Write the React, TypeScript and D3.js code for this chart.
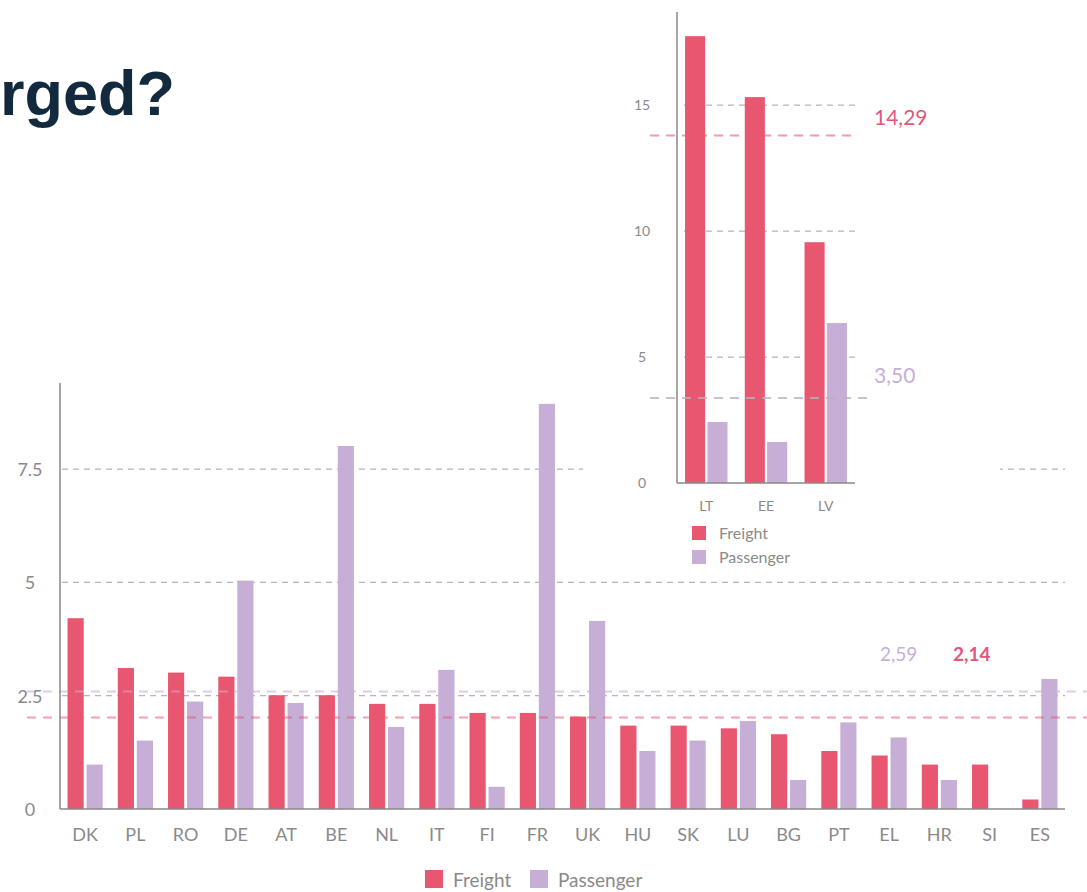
import * as d3 from "d3";
import React, { useEffect, useRef } from "react";

// main chart
const countries = ["DK", "PL", "RO", "DE", "AT", "BE", "NL", "IT", "FI", "FR", "UK", "HU", "SK", "LU", "BG", "PT", "EL", "HR", "SI", "ES"];
const freight = [4.21, 3.11, 3.01, 2.92, 2.51, 2.51, 2.32, 2.32, 2.12, 2.12, 2.04, 1.84, 1.84, 1.78, 1.65, 1.28, 1.18, 0.98, 0.98, 0.21];
const passenger = [0.98, 1.51, 2.37, 5.04, 2.34, 8.01, 1.81, 3.07, 0.49, 8.94, 4.15, 1.28, 1.51, 1.94, 0.64, 1.91, 1.58, 0.64, 0, 2.87];
const mainTicks = [0, 2.5, 5, 7.5];
const mainTickLabels = ["0", "2.5", "5", "7.5"];
const mainAvgFreight = 2.02;
const mainAvgPassenger = 2.59;
const mainAvgFreightLabel = "2,14";
const mainAvgPassengerLabel = "2,59";

// baltic inset
const insetCountries = ["LT", "EE", "LV"];
const insetFreight = [17.74, 15.32, 9.56];
const insetPassenger = [2.42, 1.63, 6.35];
const insetTicks = [0, 5, 10, 15];
const insetAvgFreight = 13.8;
const insetAvgPassenger = 3.37;
const insetAvgFreightLabel = "14,29";
const insetAvgPassengerLabel = "3,50";

const seriesNames = ["Freight", "Passenger"];
const colors = ["#e9566f", "#c6aed6"];
const font = "Lato, 'Noto Sans', sans-serif";

const App = () => {
  const svgRef = useRef<SVGSVGElement>(null);

  useEffect(() => {
    const svg = d3.select(svgRef.current);
    svg.selectAll("*").remove();

    svg.append("rect").attr("width", 1087).attr("height", 892).attr("fill", "#fff");

    // title fragment
    svg
      .append("text")
      .attr("x", 0)
      .attr("y", 115)
      .style("font-family", "'Liberation Sans', Arial, sans-serif")
      .style("font-weight", "bold")
      .style("font-size", "63px")
      .style("fill", "#13293d")
      .text("rged?");

    // ---------- main chart ----------
    const x = d3.scaleBand().domain(countries).range([60, 1065]).paddingInner(0.3).paddingOuter(0.15);
    const xs = d3.scaleBand().domain(seriesNames).range([0, x.bandwidth()]).paddingInner(0.15);
    const y = d3.scaleLinear().domain([0, 9.4]).range([809, 383]);

    const main = svg.append("g");

    main
      .selectAll("line.grid")
      .data(mainTicks.filter((t) => t > 0))
      .enter()
      .append("line")
      .attr("x1", 62)
      .attr("x2", 1065)
      .attr("y1", (d) => y(d))
      .attr("y2", (d) => y(d))
      .attr("stroke", "#b5b5b5")
      .attr("stroke-width", 1.3)
      .attr("stroke-dasharray", "6 5");

    const rows = countries.map((c, i) => ({ c, vals: [freight[i], passenger[i]] }));
    main
      .selectAll("g.grp")
      .data(rows)
      .enter()
      .append("g")
      .attr("transform", (d) => `translate(${x(d.c)},0)`)
      .selectAll("rect")
      .data((d) => d.vals.map((v, k) => ({ v, k })))
      .enter()
      .append("rect")
      .attr("x", (d) => xs(seriesNames[d.k])!)
      .attr("width", xs.bandwidth())
      .attr("y", (d) => y(d.v))
      .attr("height", (d) => y(0) - y(d.v))
      .attr("fill", (d) => colors[d.k]);

    // average lines
    main
      .append("line")
      .attr("x1", 27)
      .attr("x2", 1087)
      .attr("y1", y(mainAvgPassenger))
      .attr("y2", y(mainAvgPassenger))
      .attr("stroke", colors[1])
      .attr("stroke-opacity", 0.6)
      .attr("stroke-width", 2)
      .attr("stroke-dasharray", "9 7");
    main
      .append("line")
      .attr("x1", 27)
      .attr("x2", 1087)
      .attr("y1", y(mainAvgFreight))
      .attr("y2", y(mainAvgFreight))
      .attr("stroke", colors[0])
      .attr("stroke-opacity", 0.55)
      .attr("stroke-width", 2)
      .attr("stroke-dasharray", "9 7");

    // axes
    main.append("line").attr("x1", 60).attr("x2", 60).attr("y1", 383).attr("y2", y(0)).attr("stroke", "#888").attr("stroke-width", 1.5);
    main.append("line").attr("x1", 60).attr("x2", 1065).attr("y1", y(0)).attr("y2", y(0)).attr("stroke", "#888").attr("stroke-width", 1.5);

    main
      .selectAll("text.ytick")
      .data(mainTicks)
      .enter()
      .append("text")
      .attr("x", 30)
      .attr("y", (d) => y(d) + 7)
      .attr("text-anchor", "middle")
      .style("font-family", font)
      .style("font-size", "18px")
      .style("fill", "#8a8a8a")
      .text((d, i) => mainTickLabels[i]);

    main
      .selectAll("text.xtick")
      .data(countries)
      .enter()
      .append("text")
      .attr("x", (d) => x(d)! + x.bandwidth() / 2)
      .attr("y", 841)
      .attr("text-anchor", "middle")
      .style("font-family", font)
      .style("font-size", "18px")
      .style("fill", "#8a8a8a")
      .text((d) => d);

    main
      .append("text")
      .attr("x", 880)
      .attr("y", 661)
      .style("font-family", font)
      .style("font-size", "19px")
      .style("fill", colors[1])
      .text(mainAvgPassengerLabel);
    main
      .append("text")
      .attr("x", 953)
      .attr("y", 661)
      .style("font-family", font)
      .style("font-size", "19px")
      .style("font-weight", "bold")
      .style("fill", "#e2587a")
      .text(mainAvgFreightLabel);

    // bottom legend
    const legendX = [425, 530];
    seriesNames.forEach((s, i) => {
      main.append("rect").attr("x", legendX[i]).attr("y", 870).attr("width", 18).attr("height", 18).attr("fill", colors[i]);
      main
        .append("text")
        .attr("x", legendX[i] + 28)
        .attr("y", 887)
        .style("font-family", font)
        .style("font-size", "19px")
        .style("fill", "#8a8a8a")
        .text(s);
    });

    // ---------- inset ----------
    const inset = svg.append("g");
    inset.append("rect").attr("x", 583).attr("y", 0).attr("width", 417).attr("height", 578).attr("fill", "#fff");

    const ix = d3.scaleBand().domain(insetCountries).range([677, 855]).paddingInner(0.29).paddingOuter(0.135);
    const ixs = d3.scaleBand().domain(seriesNames).range([0, ix.bandwidth()]).paddingInner(0.1);
    const iy = d3.scaleLinear().domain([0, 18.7]).range([483, 12]);

    inset
      .selectAll("line.grid")
      .data(insetTicks.filter((t) => t > 0))
      .enter()
      .append("line")
      .attr("x1", 684)
      .attr("x2", 856)
      .attr("y1", (d) => iy(d))
      .attr("y2", (d) => iy(d))
      .attr("stroke", "#b5b5b5")
      .attr("stroke-width", 1.2)
      .attr("stroke-dasharray", "6 5");

    const irows = insetCountries.map((c, i) => ({ c, vals: [insetFreight[i], insetPassenger[i]] }));
    inset
      .selectAll("g.grp")
      .data(irows)
      .enter()
      .append("g")
      .attr("transform", (d) => `translate(${ix(d.c)},0)`)
      .selectAll("rect")
      .data((d) => d.vals.map((v, k) => ({ v, k })))
      .enter()
      .append("rect")
      .attr("x", (d) => ixs(seriesNames[d.k])!)
      .attr("width", ixs.bandwidth())
      .attr("y", (d) => iy(d.v))
      .attr("height", (d) => iy(0) - iy(d.v))
      .attr("fill", (d) => colors[d.k]);

    inset
      .append("line")
      .attr("x1", 650)
      .attr("x2", 858)
      .attr("y1", iy(insetAvgFreight))
      .attr("y2", iy(insetAvgFreight))
      .attr("stroke", colors[0])
      .attr("stroke-opacity", 0.6)
      .attr("stroke-width", 2)
      .attr("stroke-dasharray", "9 7");
    inset
      .append("line")
      .attr("x1", 650)
      .attr("x2", 873)
      .attr("y1", iy(insetAvgPassenger))
      .attr("y2", iy(insetAvgPassenger))
      .attr("stroke", "#b9b0c0")
      .attr("stroke-opacity", 0.8)
      .attr("stroke-width", 2)
      .attr("stroke-dasharray", "9 7");

    inset.append("line").attr("x1", 677).attr("x2", 677).attr("y1", 12).attr("y2", iy(0)).attr("stroke", "#888").attr("stroke-width", 1.5);
    inset.append("line").attr("x1", 677).attr("x2", 855).attr("y1", iy(0)).attr("y2", iy(0)).attr("stroke", "#888").attr("stroke-width", 1.5);

    inset
      .selectAll("text.ytick")
      .data(insetTicks)
      .enter()
      .append("text")
      .attr("x", 642)
      .attr("y", (d) => iy(d) + 5)
      .attr("text-anchor", "middle")
      .style("font-family", font)
      .style("font-size", "14px")
      .style("fill", "#8a8a8a")
      .text((d) => String(d));

    inset
      .selectAll("text.xtick")
      .data(insetCountries)
      .enter()
      .append("text")
      .attr("x", (d) => ix(d)! + ix.bandwidth() / 2)
      .attr("y", 511)
      .attr("text-anchor", "middle")
      .style("font-family", font)
      .style("font-size", "14px")
      .style("fill", "#8a8a8a")
      .text((d) => d);

    inset
      .append("text")
      .attr("x", 874)
      .attr("y", 125)
      .style("font-family", font)
      .style("font-size", "21px")
      .style("fill", "#e2587a")
      .text(insetAvgFreightLabel);
    inset
      .append("text")
      .attr("x", 874)
      .attr("y", 383)
      .style("font-family", font)
      .style("font-size", "21px")
      .style("fill", colors[1])
      .text(insetAvgPassengerLabel);

    seriesNames.forEach((s, i) => {
      inset.append("rect").attr("x", 692).attr("y", 526 + i * 24).attr("width", 14).attr("height", 14).attr("fill", colors[i]);
      inset
        .append("text")
        .attr("x", 719)
        .attr("y", 539 + i * 24)
        .style("font-family", font)
        .style("font-size", "16px")
        .style("fill", "#8a8a8a")
        .text(s);
    });
  }, []);

  return (
    <svg
      ref={svgRef}
      width={1087}
      height={892}
      style={{ position: "absolute", left: 0, top: 0, display: "block" }}
    ></svg>
  );
};

export default App;
